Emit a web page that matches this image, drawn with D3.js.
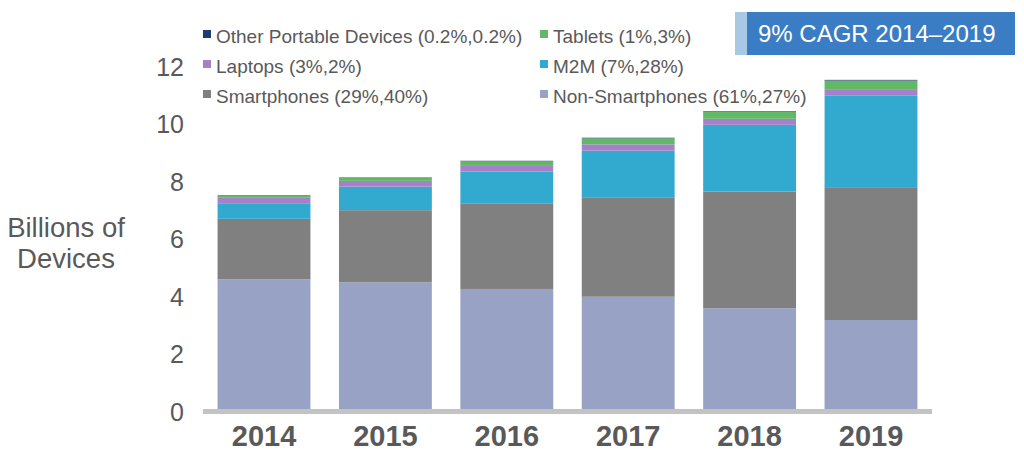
<!DOCTYPE html>
<html>
<head>
<meta charset="utf-8">
<script src="https://cdn.jsdelivr.net/npm/d3@7"></script>
<style>
  html, body { margin: 0; padding: 0; background: #fff; }
  svg { display: block; font-family: "Liberation Sans", Arial, sans-serif; }
</style>
</head>
<body>
<svg id="chart" width="1024" height="474"></svg>
<script>
const years = ["2014", "2015", "2016", "2017", "2018", "2019"];
const nonSmartphones = [4.55, 4.44, 4.21, 3.94, 3.54, 3.13];
const smartphones = [2.10, 2.51, 2.98, 3.46, 4.06, 4.62];
const m2m = [0.52, 0.82, 1.10, 1.62, 2.32, 3.18];
const laptops = [0.21, 0.20, 0.20, 0.22, 0.21, 0.23];
const tablets = [0.08, 0.10, 0.16, 0.21, 0.24, 0.30];
const otherPortable = [0.015, 0.016, 0.018, 0.020, 0.021, 0.023];
const yTicks = [0, 2, 4, 6, 8, 10, 12];

const seriesNames = ["Non-Smartphones", "Smartphones", "M2M", "Laptops", "Tablets", "Other Portable Devices"];
const seriesValues = [nonSmartphones, smartphones, m2m, laptops, tablets, otherPortable];
const seriesColors = ["#97A2C4", "#808080", "#32AACF", "#A680C9", "#62B865", "#1F3B73"];
const legendLabels = [
  ["Other Portable Devices (0.2%,0.2%)", "Tablets (1%,3%)"],
  ["Laptops (3%,2%)", "M2M (7%,28%)"],
  ["Smartphones (29%,40%)", "Non-Smartphones (61%,27%)"]
];
const legendColorIdx = [[5, 4], [3, 2], [1, 0]];

const rows = years.map((y, i) => {
  const r = { year: y };
  seriesNames.forEach((n, k) => r[n] = seriesValues[k][i]);
  return r;
});

const svg = d3.select("#chart");
const textColor = "#595959";

const x = d3.scaleBand().domain(years).range([203, 932]).paddingInner(0.235).paddingOuter(0.12);
const y = d3.scaleLinear().domain([0, 12]).range([410, 65]);

const stack = d3.stack().keys(seriesNames)(rows);

svg.append("g").selectAll("g")
  .data(stack).join("g")
  .attr("fill", (d, i) => seriesColors[i])
  .selectAll("rect")
  .data(d => d).join("rect")
  .attr("x", d => x(d.data.year))
  .attr("width", x.bandwidth())
  .attr("y", d => y(d[1]))
  .attr("height", d => Math.max(0, y(d[0]) - y(d[1])));

// baseline
svg.append("line")
  .attr("x1", 203).attr("x2", 932)
  .attr("y1", y(0) + 1.5).attr("y2", y(0) + 1.5)
  .attr("stroke", "#C3C3C3").attr("stroke-width", 5);

// y axis (labels only)
const yAxis = d3.axisLeft(y).tickValues(yTicks).tickSize(0).tickPadding(0);
const gy = svg.append("g").attr("transform", "translate(184,2)").call(yAxis);
gy.select(".domain").remove();
gy.selectAll("text").attr("fill", textColor).attr("font-size", 25)
  .attr("font-family", "Liberation Sans, Arial, sans-serif");

// x axis (labels only)
const xAxis = d3.axisBottom(x).tickSize(0).tickPadding(0);
const gx = svg.append("g").attr("transform", "translate(0,425)").call(xAxis);
gx.select(".domain").remove();
gx.selectAll("text").attr("fill", textColor).attr("font-size", 29).attr("font-weight", "bold")
  .attr("font-family", "Liberation Sans, Arial, sans-serif");

// y axis title
const yt = svg.append("text").attr("fill", textColor).attr("font-size", 27.5).attr("text-anchor", "middle");
yt.append("tspan").attr("x", 66).attr("y", 237).text("Billions of");
yt.append("tspan").attr("x", 66).attr("y", 268).text("Devices");

// legend
const legCols = [203, 540];
const legRows = [36, 66, 96];
legendLabels.forEach((row, r) => {
  row.forEach((lab, c) => {
    const g = svg.append("g");
    g.append("rect").attr("x", legCols[c]).attr("y", legRows[r] - 6).attr("width", 8).attr("height", 8)
      .attr("fill", seriesColors[legendColorIdx[r][c]]);
    g.append("text").attr("x", legCols[c] + 13).attr("y", legRows[r]).attr("dy", "0.35em")
      .attr("fill", textColor).attr("font-size", 19).text(lab);
  });
});

// CAGR box
svg.append("rect").attr("x", 735).attr("y", 12).attr("width", 12).attr("height", 43).attr("fill", "#A8C8E6");
svg.append("rect").attr("x", 747).attr("y", 12).attr("width", 268).attr("height", 43).attr("fill", "#3B7DC4");
svg.append("text").attr("x", 758).attr("y", 34).attr("dy", "0.35em").attr("fill", "#fff")
  .attr("font-size", 24).text("9% CAGR 2014\u20132019");
</script>
</body>
</html>
